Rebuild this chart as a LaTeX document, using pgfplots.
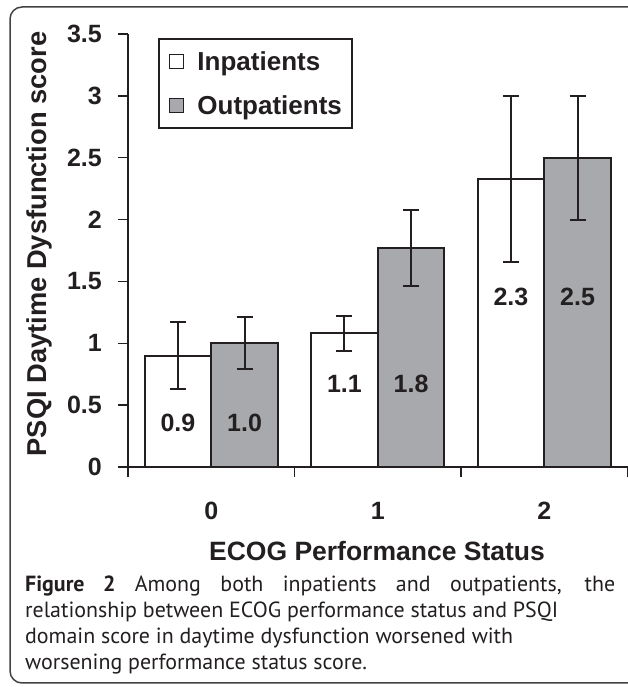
\documentclass[border=0pt]{standalone}
\usepackage{pgfplots}
\pgfplotsset{compat=1.18}
\usepackage{pgfplotstable}
\usepackage{fontspec}
\setmainfont{Liberation Sans}
\newfontfamily\capfont{PT Sans}
\definecolor{ink}{HTML}{231F20}
\definecolor{bargray}{HTML}{A7A9AC}

% x = category index -0.2 (inpatients) / +0.2 (outpatients)
\pgfplotstableread{
x y e
-0.2 0.90 0.27
0.8 1.08 0.14
1.8 2.33 0.67
}\inpat
\pgfplotstableread{
x y e
0.2 1.00 0.21
1.2 1.77 0.31
2.2 2.50 0.50
}\outpat

\begin{document}
\newlength\capw%
\settowidth\capw{\capfont\fontsize{10}{12}\selectfont relationship between ECOG performance status and PSQI}%
\pgfmathsetmacro\capfs{10*533/\capw}%
\begin{tikzpicture}
\useasboundingbox (0,0) rectangle (627pt,687pt);
\draw[line width=1.5pt, color=ink!85, rounded corners=12pt] (10pt,4pt) rectangle (660pt,680pt);
\begin{axis}[
  at={(128pt,220pt)}, anchor=south west,
  scale only axis, width=499.5pt, height=433pt,
  xmin=-0.5, xmax=2.5, ymin=0, ymax=3.5,
  axis x line=bottom, axis y line=left,
  axis line style={-, line width=1.5pt, ink},
  xtick={-0.5,0.5,1.5,2.5}, xticklabels={0,1,2}, x tick label as interval,
  ytick={0,0.5,1,1.5,2,2.5,3,3.5},
  yticklabels={0,0.5,1,1.5,2,2.5,3,3.5},
  tick align=outside, major tick length=10pt,
  tick style={line width=1.5pt, ink},
  ticklabel style={font=\bfseries\fontsize{25}{25}\selectfont, text=ink, inner sep=0pt},
  yticklabel style={anchor=east, xshift=-16pt},
  xticklabel style={anchor=base, yshift=-42pt},
  xlabel={ECOG Performance Status},
  xlabel style={at={(rel axis cs:0.4985,-0.217)}, anchor=base, font=\bfseries\fontsize{26.5}{26.5}\selectfont, text=ink, inner sep=0pt},
  ylabel={PSQI Daytime Dysfunction score},
  ylabel style={at={(rel axis cs:-0.1636,0.515)}, anchor=base, font=\bfseries\fontsize{27.3}{27.3}\selectfont, text=ink, inner sep=0pt},
  legend cell align=left,
  legend style={at={(0.06,0.991)}, anchor=north west, draw=ink, line width=2pt,
    inner xsep=10pt, inner ysep=13pt, row sep=25pt,
    font=\bfseries\fontsize{26}{26}\selectfont, text=ink,
    nodes={inner sep=0pt, text height=19pt, text depth=0pt},
    /tikz/every odd column/.append style={column sep=13pt}},
]
\addplot[ybar, bar width=66.6pt, bar shift=0pt, fill=white, draw=ink, line width=2pt,
  legend image code/.code={\draw[fill=white, draw=ink, line width=1.5pt] (0pt,-7pt) rectangle (14pt,7pt);},
  error bars/.cd, y dir=both, y explicit,
  error bar style={line width=2pt, ink},
  error mark options={rotate=90, mark size=8pt, line width=2pt, ink}]
  table[x=x, y=y, y error=e] {\inpat};
\addlegendentry{Inpatients}
\addplot[ybar, bar width=66.6pt, bar shift=0pt, fill=bargray, draw=ink, line width=2pt,
  legend image code/.code={\draw[fill=bargray, draw=ink, line width=1.5pt] (0pt,-7pt) rectangle (14pt,7pt);},
  error bars/.cd, y dir=both, y explicit,
  error bar style={line width=2pt, ink},
  error mark options={rotate=90, mark size=8pt, line width=2pt, ink}]
  table[x=x, y=y, y error=e] {\outpat};
\addlegendentry{Outpatients}
\begin{scope}[every node/.style={font=\bfseries\fontsize{25}{25}\selectfont, text=ink, inner sep=0pt}]
\node at (axis cs:-0.2,0.356) {0.9};
\node at (axis cs:0.2,0.356) {1.0};
\node at (axis cs:0.8,0.671) {1.1};
\node at (axis cs:1.2,0.671) {1.8};
\node at (axis cs:1.8,1.374) {2.3};
\node at (axis cs:2.2,1.374) {2.5};
\end{scope}
\end{axis}
\begin{scope}[every node/.style={anchor=base west, inner sep=0pt, text=ink}]
\node at (25pt,95pt) {\capfont\fontsize{\capfs}{\capfs}\selectfont\makebox[590pt][s]{{\bfseries Figure 2} Among both inpatients and outpatients, the}};
\node at (25pt,69pt) {\capfont\fontsize{\capfs}{\capfs}\selectfont relationship between ECOG performance status and PSQI};
\node at (25pt,43pt) {\capfont\fontsize{\capfs}{\capfs}\selectfont domain score in daytime dysfunction worsened with};
\node at (25pt,17pt) {\capfont\fontsize{\capfs}{\capfs}\selectfont worsening performance status score.};
\end{scope}
\end{tikzpicture}
\end{document}
